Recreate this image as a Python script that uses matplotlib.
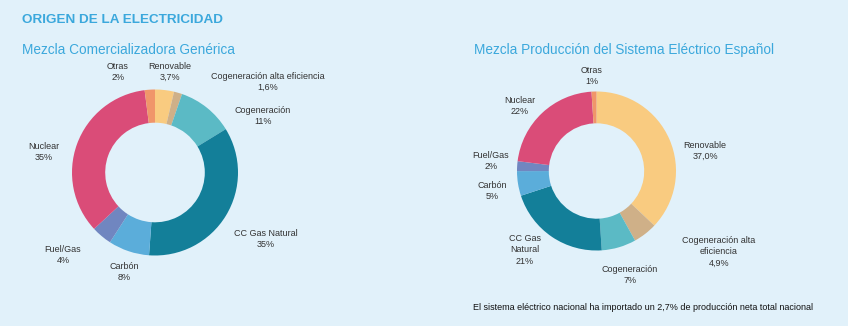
import matplotlib
matplotlib.use("Agg")
import matplotlib.pyplot as plt

plt.rcParams['font.family'] = ['Liberation Sans', 'DejaVu Sans']

categories = ["Renovable", "Cogeneración alta eficiencia", "Cogeneración",
              "CC Gas Natural", "Carbón", "Fuel/Gas", "Nuclear", "Otras"]
colors = ["#F9CB80", "#CFB088", "#5BBAC5", "#137F99", "#5BADDA", "#7086C0", "#DA4C78", "#F0956A"]

left_values = [3.7, 1.6, 11, 35, 8, 4, 35, 2]
left_labels = ["Renovable\n3,7%", "Cogeneración alta eficiencia\n1,6%", "Cogeneración\n11%",
               "CC Gas Natural\n35%", "Carbón\n8%", "Fuel/Gas\n4%", "Nuclear\n35%", "Otras\n2%"]

right_values = [37.0, 4.9, 7, 21, 5, 2, 22, 1]
right_labels = ["Renovable\n37,0%", "Cogeneración alta\neficiencia\n4,9%", "Cogeneración\n7%",
                "CC Gas\nNatural\n21%", "Carbón\n5%", "Fuel/Gas\n2%", "Nuclear\n22%", "Otras\n1%"]

title = "ORIGEN DE LA ELECTRICIDAD"
left_title = "Mezcla Comercializadora Genérica"
right_title = "Mezcla Producción del Sistema Eléctrico Español"
footnote = "El sistema eléctrico nacional ha importado un 2,7% de producción neta total nacional"

# layout (pixel coordinates)
W, H = 848, 326
bg = "#E1F1FA"
left_center, left_r = (155, 172.5), 83
right_center, right_r = (596.5, 171), 79.5
left_label_pos = [(170, 72), (268, 82), (263, 116), (266, 239), (124, 272), (63, 255), (44, 152), (118, 72)]
right_label_pos = [(705, 151), (719, 252), (630, 275), (525, 250), (492, 191), (491, 161), (520, 106), (592, 76)]

fig = plt.figure(figsize=(W / 100, H / 100), dpi=100, facecolor=bg)
ax = fig.add_axes([0, 0, 1, 1])
ax.set_facecolor(bg)


def donut(values, center, r, labels, pos):
    # y axis is inverted, so counterclock in data coords appears clockwise
    ax.pie(values, colors=colors, startangle=-90, counterclock=True,
           center=center, radius=r, normalize=True,
           wedgeprops=dict(width=r * 0.4, linewidth=0))
    for lab, (x, y) in zip(labels, pos):
        ax.text(x, y, lab, ha='center', va='center', fontsize=6.5, color='#333333',
                linespacing=1.3)


donut(left_values, left_center, left_r, left_labels, left_label_pos)
donut(right_values, right_center, right_r, right_labels, right_label_pos)
ax.set_xlim(0, W)
ax.set_ylim(H, 0)
ax.set_aspect('equal')
ax.axis('off')

ax.text(22, 20, title, ha='left', va='center', fontsize=9.7, fontweight='bold', color='#3BA8DC')
ax.text(22, 50, left_title, ha='left', va='center', fontsize=9.8, color='#3BA8DC')
ax.text(474, 50, right_title, ha='left', va='center', fontsize=9.8, color='#3BA8DC')
ax.text(643, 307, footnote, ha='center', va='center', fontsize=6.5, color='#111111')

fig.savefig("out.png", dpi=100, facecolor=bg)
